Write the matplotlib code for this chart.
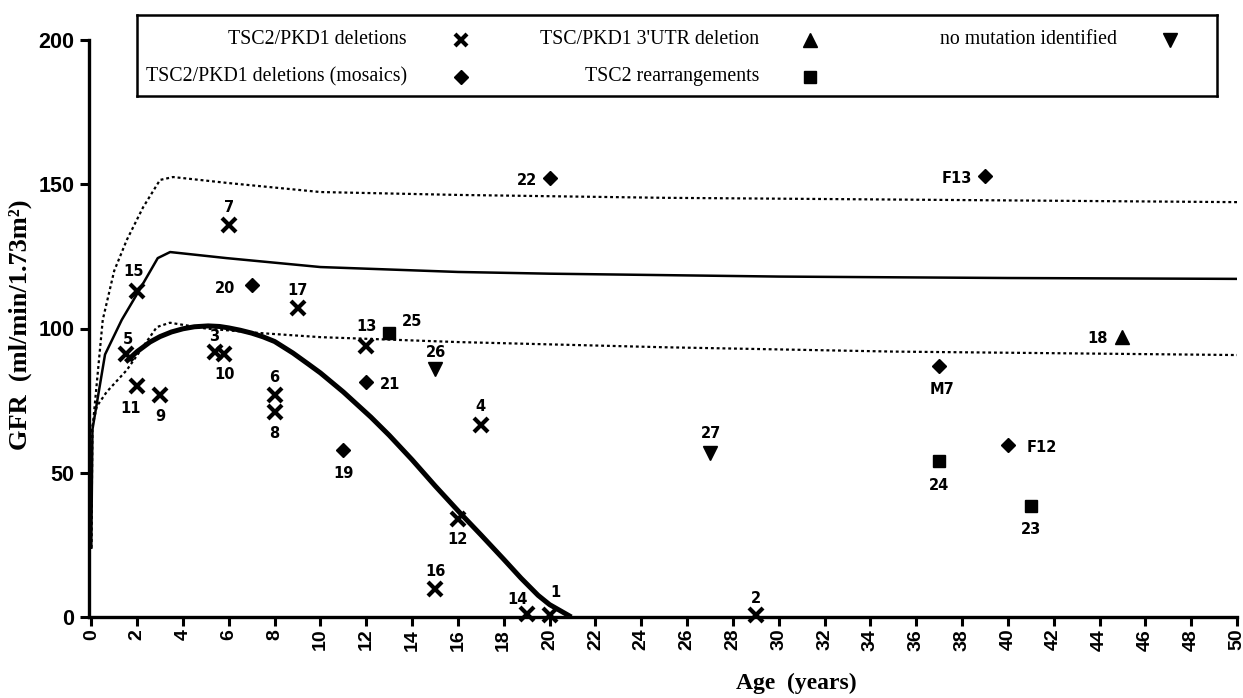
import matplotlib
matplotlib.use('Agg')
import matplotlib.pyplot as plt
import numpy as np

# --- data ------------------------------------------------------------------
# TSC2/PKD1 deletions (x)
del_age = [1.5, 2, 2, 3, 5.4, 5.8, 6, 8, 8, 9, 12, 17, 16, 15, 19, 20, 29]
del_gfr = [91, 113, 80, 77, 92, 91, 136, 77, 71, 107, 94, 66.5, 34, 9.7, 1, 0.7, 0.7]
del_lab = ['5', '15', '11', '9', '3', '10', '7', '6', '8', '17', '13', '4', '12', '16', '14', '1', '2']

# TSC2/PKD1 deletions, mosaics (diamond)
mos_age = [20, 39, 7, 12, 11, 37, 40]
mos_gfr = [152, 153, 115, 81.5, 58, 87, 59.6]
mos_lab = ['22', 'F13', '20', '21', '19', 'M7', 'F12']

# TSC2 rearrangements (square)
rea_age = [13, 37, 41]
rea_gfr = [98.4, 54, 38.5]
rea_lab = ['25', '24', '23']

# TSC/PKD1 3'UTR deletion (up triangle)
utr_age = [45]
utr_gfr = [97]
utr_lab = ['18']

# no mutation identified (down triangle)
nom_age = [15, 27]
nom_gfr = [86, 57]
nom_lab = ['26', '27']

# normal range curves
mean_age = [0, 0.05, 0.6, 1.33, 2.0, 2.9, 3.44, 5.9, 10, 16, 20, 30, 40, 50]
mean_gfr = [24, 65, 91, 103, 112, 124.4, 126.5, 124.4, 121.3, 119.6, 119, 118, 117.5, 117.2]
upper_age = [0, 0.05, 0.5, 1.0, 1.55, 2.26, 3.0, 3.57, 6, 10, 16, 25, 35, 50]
upper_gfr = [24, 65, 103, 120, 130.7, 142, 151.5, 152.5, 150.4, 147.3, 146.3, 145.3, 144.7, 143.8]
lower_age = [0, 0.02, 0.24, 0.67, 1.55, 2.2, 2.86, 3.43, 5, 7.4, 10, 16, 25, 35, 50]
lower_gfr = [24, 65, 73, 78, 85.6, 93, 100.5, 102, 100, 98.4, 97, 95.3, 93.5, 92, 90.8]

# fitted course of the patients
fit_age = [1.5, 2.0, 2.56, 3.0, 3.5, 4.0, 4.5, 5.1, 5.6, 6.0, 6.5, 7.0, 7.5, 8.0, 8.8, 9.5,
           10, 11, 12.2, 13, 14, 15, 16.1, 17, 18, 18.75, 19.5, 20, 20.95]
fit_gfr = [88.4, 92, 95.3, 97.2, 98.8, 99.9, 100.6, 100.9, 100.7, 100.2, 99.4, 98.4, 97.1, 95.5,
           91.5, 87.5, 84.6, 78, 69.3, 63, 54.5, 45.5, 36, 28.5, 20, 13.5, 7.5, 4.3, 0]

# label offsets in pixels (dx, dy)
del_off = [(2, 15), (-4, 19), (-7, -22), (0, -22), (-1, 15), (0, -20), (0, 17), (0, 17),
           (0, -21), (0, 18), (0, 19), (0, 19), (0, -21), (0, 18), (-9, 15), (6, 22), (0, 16)]
mos_off = [(-23, -2), (-28, -3), (-27, -3), (24, -3), (0, -24), (3, -23), (34, -2)]
rea_off = [(23, 12), (0, -24), (0, -24)]
utr_off = [(-25, -1)]
nom_off = [(1, 16), (1, 19)]

W, H = 1243, 698
fig = plt.figure(figsize=(W / 100, H / 100), dpi=100)
x0, x1, y0, y1 = 89, 1237, 617, 40
ax = fig.add_axes([x0 / W, 1 - y0 / H, (x1 - x0) / W, (y0 - y1) / H])

dot = (0, (1.3, 1.3))
ax.plot(mean_age, mean_gfr, 'k-', lw=1.8, zorder=2)
ax.plot(upper_age, upper_gfr, color='k', ls=dot, lw=1.6, zorder=2)
ax.plot(lower_age, lower_gfr, color='k', ls=dot, lw=1.6, zorder=2)
ax.plot(fit_age, fit_gfr, 'k-', lw=3.6, zorder=2, solid_capstyle='butt', solid_joinstyle='round')

lab_font = dict(family='DejaVu Sans', weight='bold', size=10.5)


def draw(ages, gfrs, labels, offsets, **mk):
    ax.plot(ages, gfrs, ls='none', color='k', zorder=4, clip_on=False, **mk)
    for a, g, t, (dx, dy) in zip(ages, gfrs, labels, offsets):
        ax.annotate(t, (a, g), xytext=(dx, dy), textcoords='offset pixels',
                    ha='center', va='center', **lab_font)


draw(del_age, del_gfr, del_lab, del_off, marker='x', ms=9.5, mew=3)
draw(mos_age, mos_gfr, mos_lab, mos_off, marker='D', ms=7.5)
draw(rea_age, rea_gfr, rea_lab, rea_off, marker='s', ms=9)
draw(utr_age, utr_gfr, utr_lab, utr_off, marker='^', ms=10.5)
draw(nom_age, nom_gfr, nom_lab, nom_off, marker='v', ms=10.5)

ax.set_xlim(-0.1, 50)
ax.set_ylim(0, 200)
ax.set_xticks(np.arange(0, 51, 2))
ax.set_yticks([0, 50, 100, 150, 200])
for s in ['top', 'right']:
    ax.spines[s].set_visible(False)
for s in ['left', 'bottom']:
    ax.spines[s].set_linewidth(2.4)
ax.tick_params(axis='both', direction='out', length=6.5, width=2.2)
ax.tick_params(axis='x', labelrotation=90, pad=2, labelsize=14)
ax.tick_params(axis='y', pad=4, labelsize=15.5)
for t in ax.get_xticklabels() + ax.get_yticklabels():
    t.set_family('Liberation Sans')
    t.set_weight('bold')

serif = dict(family='Liberation Serif', weight='bold')
ax.set_ylabel('GFR  (ml/min/1.73m²)', size=19, **serif)
ax.set_xlabel('Age  (years)', size=17, **serif)
ax.yaxis.set_label_coords(-0.05, 0.506)
ax.xaxis.set_label_coords(0.616, -0.097)

# legend box, drawn in pixel coordinates
lx0, lx1, ly0, ly1 = 137, 1217, 15, 96
lg = fig.add_axes([lx0 / W, 1 - ly1 / H, (lx1 - lx0) / W, (ly1 - ly0) / H])
lg.set_xlim(lx0, lx1)
lg.set_ylim(ly1, ly0)
lg.set_xticks([])
lg.set_yticks([])
for s in lg.spines.values():
    s.set_linewidth(1.8)
leg_font = dict(family='Liberation Serif', size=14.3)
entries = [
    ('TSC2/PKD1 deletions', dict(marker='x', ms=8.5, mew=3), 407, 461, 40),
    ('TSC2/PKD1 deletions (mosaics)', dict(marker='D', ms=7.5), 407, 461, 77),
    ("TSC/PKD1 3'UTR deletion", dict(marker='^', ms=9.5), 759, 810, 40),
    ('TSC2 rearrangements', dict(marker='s', ms=9), 759, 810, 77),
    ('no mutation identified', dict(marker='v', ms=9.5), 1117, 1170, 40),
]
for text, mk, tx, mx, ry in entries:
    lg.text(tx, ry, text, ha='right', va='center', **leg_font)
    lg.plot([mx], [ry], color='k', ls='none', **mk)

fig.savefig('out.png', dpi=100)
